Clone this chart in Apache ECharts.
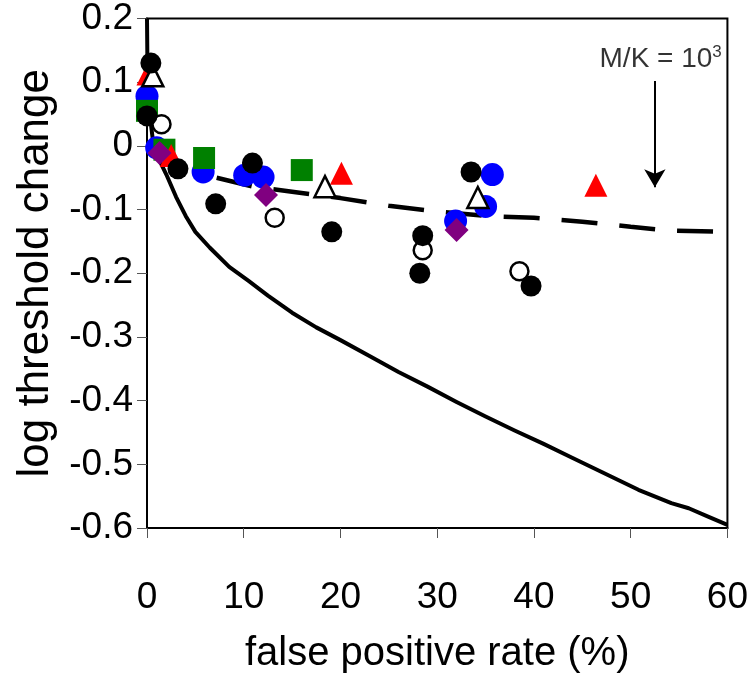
<!DOCTYPE html>
<html><head><meta charset="utf-8">
<script src="https://cdn.jsdelivr.net/npm/echarts@6/dist/echarts.min.js"></script>
<style>html,body{margin:0;padding:0;background:#fff}#c{width:751px;height:679px}</style>
</head><body><div id="c"></div>
<script>
// Model curves
const solidCurve = [[0,0.2],[0.05,0.12],[0.2,0.06],[0.6,0.01],[1.2,-0.02],[2,-0.045],[3,-0.08],[4,-0.11],[5,-0.135],[6.5,-0.16],[8.5,-0.19],[10.5,-0.212],[12.5,-0.235],[15,-0.262],[17.5,-0.285],[20,-0.305],[23,-0.33],[26,-0.355],[29,-0.378],[32,-0.402],[35,-0.425],[38,-0.447],[41,-0.468],[44,-0.49],[47,-0.512],[50.8,-0.54],[54.2,-0.561],[56,-0.569],[58,-0.582],[60,-0.595]];
const dashedCurve = [[7.2,-0.05],[11,-0.064],[15,-0.072],[20,-0.082],[25,-0.094],[30,-0.103],[35,-0.11],[40,-0.113],[45,-0.119],[50,-0.127],[54,-0.133],[60,-0.135]];
// Data points
const blackCircles = [[0.4,0.130],[0,0.047],[3.2,-0.036],[7.1,-0.091],[10.9,-0.027],[19.1,-0.135],[28.5,-0.141],[28.2,-0.200],[33.5,-0.041],[39.7,-0.220]];
const openCircles = [[1.5,0.034],[13.2,-0.113],[28.5,-0.164],[38.5,-0.197]];
const blueCircles = [[0,0.078],[1.0,-0.003],[5.8,-0.041],[10.1,-0.046],[12.0,-0.049],[31.9,-0.118],[35.0,-0.095],[35.7,-0.045]];
const redTriangles = [[0.1,0.113],[2.5,-0.015],[20.1,-0.043],[46.4,-0.062]];
const openTriangles = [[0.6,0.11],[18.4,-0.064],[34.2,-0.081]];
const greenSquares = [[0,0.055],[1.8,-0.006],[5.9,-0.019],[16.0,-0.038]];
const purpleDiamonds = [[1.3,-0.011],[12.3,-0.077],[32.0,-0.132]];
// Annotation
const arrowX = 52.5, arrowTop = 0.102, arrowBottom = -0.065;
const annotPos = [53.1, 0.136];
const xTicks = {min:0, max:60, interval:10};
const yTicks = {min:-0.6, max:0.2, interval:0.1};

const FONT = 'Liberation Sans';
const chart = echarts.init(document.getElementById('c'));
function sc(name, data, symbol, size, color, border, z){
  return {name, type:'scatter', data, symbol, symbolSize:size, z,
    itemStyle:{color, borderColor: border ? '#000' : color, borderWidth: border ? 2.5 : 0, opacity:1},
    emphasis:{disabled:true}};
}
chart.setOption({
  animation:false,
  grid:{left:147, right:22, top:16, bottom:147, show:true, borderColor:'#000', borderWidth:2},
  xAxis:{type:'value', min:xTicks.min, max:xTicks.max, interval:xTicks.interval,
    name:'false positive rate (%)', nameLocation:'middle', nameGap:106,
    nameTextStyle:{fontFamily:FONT, fontSize:40, color:'#000'},
    axisLine:{show:true, onZero:false, lineStyle:{color:'#000', width:2}},
    axisTick:{show:true, length:10, lineStyle:{color:'#555', width:1}},
    axisLabel:{fontFamily:FONT, fontSize:37, color:'#000', margin:51},
    splitLine:{show:false}},
  yAxis:{type:'value', min:yTicks.min, max:yTicks.max, interval:yTicks.interval,
    name:'log threshold change', nameLocation:'middle', nameGap:86,
    nameTextStyle:{fontFamily:FONT, fontSize:44, color:'#000'},
    axisLine:{show:true, onZero:false, lineStyle:{color:'#000', width:2}},
    axisTick:{show:true, length:10, lineStyle:{color:'#555', width:1}},
    axisLabel:{fontFamily:FONT, fontSize:37, color:'#000', margin:14,
      formatter:v=>String(Math.round(v*10)/10)},
    splitLine:{show:false}},
  series:[
    {type:'line', data:solidCurve, showSymbol:false, symbol:'none', z:1, smooth:false,
      lineStyle:{color:'#000', width:4, join:'round'}},
    {type:'line', data:dashedCurve, showSymbol:false, symbol:'none', z:1,
      lineStyle:{color:'#000', width:4.5, type:[36,22]},
      markLine:{silent:true, symbol:['none','arrow'], symbolSize:[16,18],
        lineStyle:{color:'#000', width:2, type:'solid'}, label:{show:false},
        data:[[{coord:[arrowX,arrowTop]},{coord:[arrowX,arrowBottom]}]]}},
    sc('blue', blueCircles, 'circle', 23, '#0000ff', false, 2),
    sc('green', greenSquares, 'rect', 22, '#008000', false, 3),
    sc('red', redTriangles, 'triangle', 23, '#ff0000', false, 4),
    sc('openTri', openTriangles, 'triangle', 21, '#fff', true, 5),
    sc('purple', purpleDiamonds, 'diamond', 24, '#800080', false, 6),
    sc('openCirc', openCircles, 'circle', 18, '#fff', true, 7),
    sc('black', blackCircles, 'circle', 21, '#000', false, 8),
    {type:'scatter', data:[annotPos], symbolSize:0, z:9,
      label:{show:true, position:'inside', formatter:'{a|M/K = 10}{s|3}',
        rich:{a:{fontFamily:FONT, fontSize:28, color:'#000'},
              s:{fontFamily:FONT, fontSize:17, color:'#000', verticalAlign:'top', padding:[0,0,14,0]}}}}
  ]
});
</script></body></html>
